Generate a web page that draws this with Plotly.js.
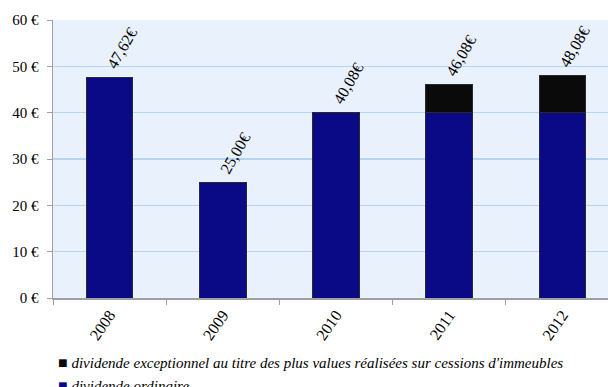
<!DOCTYPE html>
<html><head><meta charset="utf-8">
<script src="https://cdn.plot.ly/plotly-3.0.1.min.js"></script>
<style>html,body{margin:0;padding:0;overflow:hidden;background:#fff}</style>
</head><body><div id="chart"></div>
<script>
const years = ['2008','2009','2010','2011','2012'];
const ordinaire = [47.62, 25.00, 40.08, 40.08, 40.08];
const exceptionnel = [0, 0, 0, 6.00, 8.00];
const totalLabels = ['47,62€','25,00€','40,08€','46,08€','48,08€'];
const legendNames = ["dividende exceptionnel au titre des plus values réalisées sur cessions d'immeubles", "dividende ordinaire"];
const legendColors = ['#0a0a0a', '#0a0a87'];
const colors = ['#0a0a87', '#0a0a0a'];

const totals = ordinaire.map((v,i)=>v+exceptionnel[i]);
const serif = '"Liberation Serif", "DejaVu Serif", serif';

const traces = [
  {type:'bar', x:years, y:ordinaire, name:legendNames[1], marker:{color:colors[0], line:{color:'#2a2a2a', width:1}}, showlegend:false, hoverinfo:'none'},
  {type:'bar', x:years, y:exceptionnel, name:legendNames[0], marker:{color:colors[1], line:{color:'#2a2a2a', width:1}}, showlegend:false, hoverinfo:'none'}
];

const annotations = years.map((yr,i)=>({
  x: i, y: totals[i], xref:'x', yref:'y', text: totalLabels[i], showarrow:false,
  textangle:-60, xanchor:'center', yanchor:'middle', xshift:12, yshift:29,
  font:{family:serif, size:16, color:'#000'}
}));

legendNames.forEach((nm,i)=>{
  annotations.push({
    xref:'paper', yref:'paper', x:0.006, y:-0.232 - i*0.083, xanchor:'left', yanchor:'middle', showarrow:false,
    text:'<span style="color:'+legendColors[i]+';font-size:16px">■</span> <i>'+nm+'</i>',
    font:{family:serif, size:15, color:'#000'}
  });
});

const layout = {
  width: 630, height: 387,
  margin:{l:53, r:11, t:20, b:89},
  paper_bgcolor:'#ffffff', plot_bgcolor:'#e9f1fd',
  barmode:'stack', bargap:0.59,
  showlegend:false,
  xaxis:{type:'category', range:[-0.5, 4.5], autorange:false, showgrid:false, showline:true, linecolor:'#a0a0a0', linewidth:1.5,
    ticks:'outside', tickson:'boundaries', ticklen:5, tickcolor:'#a0a0a0', tickangle:-55,
    tickfont:{family:serif, size:16, color:'#000'}, fixedrange:true},
  yaxis:{range:[0,60], autorange:false, dtick:10, ticksuffix:' €', showgrid:true, gridcolor:'#b6d5f5', gridwidth:1.5,
    showline:true, linecolor:'#a0a0a0', linewidth:1.5, ticks:'outside', ticklen:5, tickcolor:'#a0a0a0',
    ticklabelstandoff:5, zeroline:false,
    tickfont:{family:serif, size:15, color:'#000'}, fixedrange:true},
  annotations: annotations
};

Plotly.newPlot('chart', traces, layout, {staticPlot:true, displayModeBar:false});
</script></body></html>
